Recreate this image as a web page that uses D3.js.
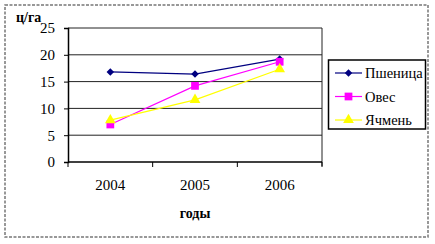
<!DOCTYPE html>
<html>
<head>
<meta charset="utf-8">
<script src="https://cdn.jsdelivr.net/npm/d3@7"></script>
</head>
<body style="margin:0; background:#fff">
<script>
const WIDTH = 435, HEIGHT = 244;
const FONT = "'Liberation Serif'";

// Data
const years   = ["2004", "2005", "2006"];
const wheat   = [16.8, 16.4, 19.2];   // Пшеница
const oats    = [7.0, 14.2, 18.7];    // Овес
const barley  = [7.8, 11.6, 17.3];    // Ячмень
const yTicks  = [0, 5, 10, 15, 20, 25];

const series = [
  { name: "Пшеница", values: wheat,  color: "#000080", marker: d3.symbolDiamond2, size: 36 },
  { name: "Овес",    values: oats,   color: "#FF00FF", marker: d3.symbolSquare,   size: 60 },
  { name: "Ячмень",  values: barley, color: "#FFFF00", marker: d3.symbolTriangle, size: 50 }
];

const plot = { left: 68, right: 322, top: 28, bottom: 162 };

const svg = d3.select("body").append("svg")
  .attr("width", WIDTH)
  .attr("height", HEIGHT);

// Outer dashed frame
svg.append("rect")
  .attr("x", 5).attr("y", 5)
  .attr("width", 423).attr("height", 232)
  .attr("fill", "#fff")
  .attr("stroke", "#777")
  .attr("stroke-width", 1.5)
  .attr("stroke-dasharray", "3,1.5");

const x = d3.scaleBand().domain(years).range([plot.left, plot.right]);
const y = d3.scaleLinear().domain([0, 25]).range([plot.bottom, plot.top]);

// Gridlines
svg.append("g")
  .selectAll("line")
  .data(yTicks.slice(1))
  .enter().append("line")
    .attr("x1", plot.left).attr("x2", plot.right)
    .attr("y1", d => y(d)).attr("y2", d => y(d))
    .attr("stroke", "#222")
    .attr("stroke-width", 1);

// Right border of plot area
svg.append("line")
  .attr("x1", plot.right).attr("x2", plot.right)
  .attr("y1", plot.top).attr("y2", plot.bottom + 4)
  .attr("stroke", "#222");

// Y axis
const yAxis = d3.axisLeft(y).tickValues(yTicks).tickSize(4).tickPadding(9);
const gy = svg.append("g")
  .attr("transform", "translate(" + plot.left + ",0)")
  .call(yAxis);
gy.select(".domain").attr("stroke", "#000").attr("stroke-width", 1.5);
gy.selectAll("text")
  .style("font-family", FONT)
  .style("font-size", "15px")
  .attr("fill", "#000");

// X axis: ticks between categories
const gx = svg.append("g")
  .attr("transform", "translate(0," + plot.bottom + ")");
gx.append("line")
  .attr("x1", plot.left).attr("x2", plot.right)
  .attr("stroke", "#000").attr("stroke-width", 1.5);
gx.selectAll("line.tick")
  .data(years.concat(["end"]))
  .enter().append("line")
    .attr("class", "tick")
    .attr("x1", (d, i) => plot.left + i * x.bandwidth())
    .attr("x2", (d, i) => plot.left + i * x.bandwidth())
    .attr("y1", 0).attr("y2", 5)
    .attr("stroke", "#000");
gx.selectAll("text")
  .data(years)
  .enter().append("text")
    .attr("x", d => x(d) + x.bandwidth() / 2)
    .attr("y", 28)
    .attr("text-anchor", "middle")
    .style("font-family", FONT)
    .style("font-size", "15px")
    .text(d => d);

// Axis titles
svg.append("text")
  .attr("x", 16).attr("y", 22)
  .style("font-family", FONT)
  .style("font-size", "14px")
  .style("font-weight", "bold")
  .text("ц/га");
svg.append("text")
  .attr("x", (plot.left + plot.right) / 2).attr("y", 218)
  .attr("text-anchor", "middle")
  .style("font-family", FONT)
  .style("font-size", "14px")
  .style("font-weight", "bold")
  .text("годы");

// Lines and markers
const line = d3.line()
  .x((d, i) => x(years[i]) + x.bandwidth() / 2)
  .y(d => y(d));

series.forEach(s => {
  svg.append("path")
    .datum(s.values)
    .attr("d", line)
    .attr("fill", "none")
    .attr("stroke", s.color)
    .attr("stroke-width", 1.2);
  svg.append("g").selectAll("path")
    .data(s.values)
    .enter().append("path")
      .attr("d", d3.symbol().type(s.marker).size(s.size))
      .attr("transform", (d, i) => "translate(" + (x(years[i]) + x.bandwidth() / 2) + "," + y(d) + ")")
      .attr("fill", s.color);
});

// Legend
const legend = svg.append("g");
legend.append("rect")
  .attr("x", 328.5).attr("y", 60)
  .attr("width", 97).attr("height", 69)
  .attr("fill", "#fff")
  .attr("stroke", "#000")
  .attr("stroke-width", 1.5);
series.forEach((s, i) => {
  const ly = 73 + i * 23.5;
  legend.append("line")
    .attr("x1", 335).attr("x2", 362)
    .attr("y1", ly).attr("y2", ly)
    .attr("stroke", s.color).attr("stroke-width", 1.2);
  legend.append("path")
    .attr("d", d3.symbol().type(s.marker).size(s.size))
    .attr("transform", "translate(348.5," + ly + ")")
    .attr("fill", s.color);
  legend.append("text")
    .attr("x", 365).attr("y", ly + 5)
    .style("font-family", FONT)
    .style("font-size", "14.5px")
    .text(s.name);
});
</script>
</body>
</html>
